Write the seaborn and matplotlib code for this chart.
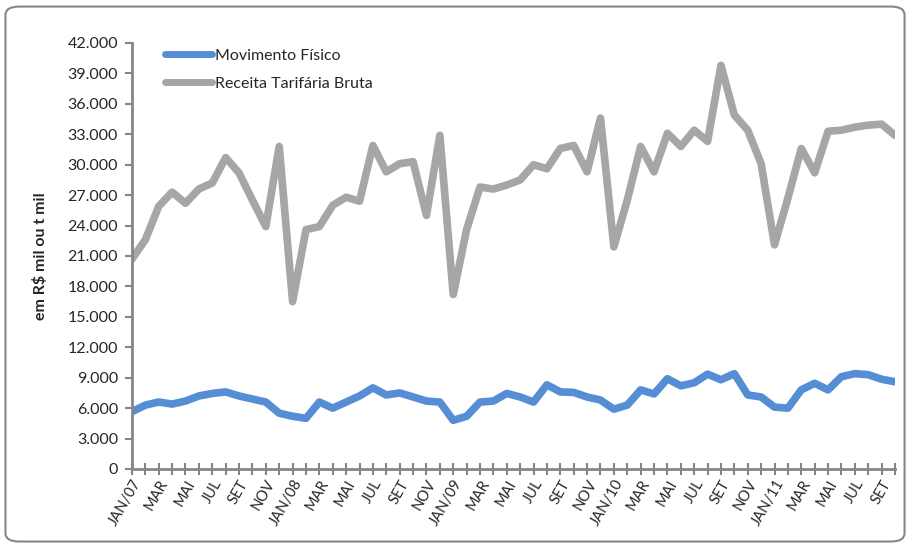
import matplotlib
matplotlib.use("Agg")
import matplotlib.pyplot as plt
from matplotlib.patches import FancyBboxPatch
from matplotlib.ticker import FuncFormatter, MultipleLocator
import seaborn as sns
import pandas as pd

# monthly series, JAN/07 .. OUT/11
meses = ["JAN", "FEV", "MAR", "ABR", "MAI", "JUN", "JUL", "AGO", "SET", "OUT", "NOV", "DEZ"]
periodos = [f"{m}/{a:02d}" for a in range(7, 12) for m in meses][:58]

movimento = [5650, 6300, 6600, 6400, 6700, 7200, 7450, 7600, 7200, 6900,
             6600, 5500, 5200, 5000, 6600, 6000, 6600, 7200, 8000, 7300,
             7500, 7100, 6700, 6600, 4800, 5200, 6600, 6700, 7450, 7100,
             6600, 8300, 7600, 7550, 7100, 6800, 5900, 6300, 7800, 7400,
             8900, 8200, 8500, 9350, 8800, 9400, 7300, 7100, 6100, 6000,
             7800, 8450, 7800, 9100, 9400, 9300, 8850, 8600]

receita = [20700, 22600, 25900, 27300, 26200, 27600, 28200, 30700, 29200, 26500,
           23900, 31800, 16500, 23600, 23900, 26000, 26800, 26400, 31900, 29300,
           30100, 30300, 25000, 32900, 17200, 23600, 27800, 27600, 28000, 28500,
           30000, 29600, 31600, 31900, 29300, 34600, 21900, 26500, 31800, 29300,
           33100, 31800, 33400, 32300, 39800, 34900, 33400, 30100, 22100, 26700,
           31600, 29200, 33300, 33400, 33700, 33900, 34000, 32900]

df = pd.DataFrame({"i": range(len(periodos)), "periodo": periodos,
                   "Movimento Físico": movimento,
                   "Receita Tarifária Bruta": receita})
longo = df.melt(id_vars=["i", "periodo"], var_name="serie", value_name="valor")

sns.set_style("white")
plt.rcParams["font.family"] = ["Lato", "DejaVu Sans"]

fig = plt.figure(figsize=(9.1, 5.47), dpi=100)
ax = fig.add_axes([0.145, 0.1426, 0.8385, 0.7788])

sns.lineplot(data=longo, x="i", y="valor", hue="serie",
             palette={"Movimento Físico": "#558ED5", "Receita Tarifária Bruta": "#A6A6A6"},
             linewidth=5.5, ax=ax, solid_joinstyle="round", solid_capstyle="round")

ax.set_xlim(0, len(periodos) - 1)
ax.set_ylim(0, 42000)
ax.yaxis.set_major_locator(MultipleLocator(3000))
ax.yaxis.set_major_formatter(FuncFormatter(lambda v, p: f"{int(v):,}".replace(",", ".")))

rotulos = [p if p.startswith("JAN") else p[:3] for p in periodos]
ax.set_xticks(range(0, len(periodos), 2))
ax.set_xticklabels(rotulos[::2], rotation=60, ha="right", rotation_mode="anchor")
ax.set_xticks(range(len(periodos)), minor=True)

cinza = "#868686"
for s in ["top", "right"]:
    ax.spines[s].set_visible(False)
for s in ["left", "bottom"]:
    ax.spines[s].set_color(cinza)
    ax.spines[s].set_linewidth(2)
ax.tick_params(axis="y", direction="out", length=5, width=1.5, color=cinza,
               labelsize=11.5, pad=5, left=True)
ax.tick_params(axis="x", which="both", direction="inout", length=8, width=1.5,
               color=cinza, labelsize=10.5, bottom=True)
ax.tick_params(axis="x", which="major", pad=2)

ax.set_xlabel("")
ax.set_ylabel("em R$ mil ou t mil", fontsize=11.5, fontweight="bold", labelpad=14)

leg = ax.legend(loc="upper left", bbox_to_anchor=(0.025, 1.02), frameon=False,
                fontsize=11.5, handlelength=2.9, handletextpad=0.2, labelspacing=0.85)
for h in leg.get_lines():
    h.set_linewidth(5)
leg.set_title(None)

fig.patches.append(FancyBboxPatch((0.006, 0.01), 0.988, 0.978,
                                  boxstyle="round,pad=0,rounding_size=0.015",
                                  transform=fig.transFigure, fill=False,
                                  edgecolor=cinza, linewidth=1.5))

fig.savefig("out.png", dpi=100)
